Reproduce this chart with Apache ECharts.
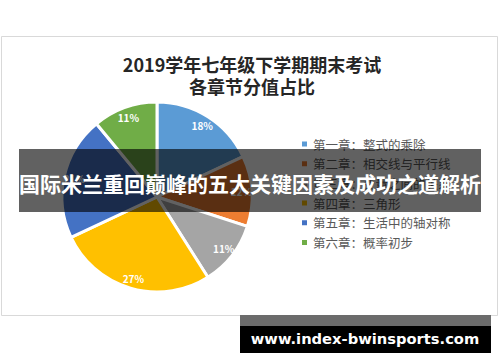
<!DOCTYPE html>
<html><head><meta charset="utf-8">
<script src="https://cdn.jsdelivr.net/npm/echarts@6/dist/echarts.min.js"></script>
<style>html,body{margin:0;padding:0;background:#fff;}#c{width:500px;height:362px;}</style>
</head><body><div id="c"></div>
<script>
const titleText = "2019学年七年级下学期期末考试\n各章节分值占比";
const categories = ["第一章：整式的乘除","第二章：相交线与平行线","第三章：变量之间的关系","第四章：三角形","第五章：生活中的轴对称","第六章：概率初步"];
const values = [18, 12, 11, 27, 21, 11];
const colors = ["#5B9BD5","#ED7D31","#A5A5A5","#FFC000","#4472C4","#70AD47"];
const bannerText = "国际米兰重回巅峰的五大关键因素及成功之道解析";
const siteText = "www.index-bwinsports.com";

const data = categories.map((n,i)=>({name:n, value:values[i]}));
const chart = echarts.init(document.getElementById('c'), null, {renderer:'svg'});
const font = '"Noto Sans CJK SC","Noto Sans",sans-serif';
chart.setOption({
  animation:false,
  color: colors,
  title:{text:titleText, left:252, textAlign:'center', top:53, padding:0,
    textStyle:{fontFamily:font, fontSize:18, fontWeight:'bold', color:'#262626', lineHeight:22}},
  legend:{orient:'vertical', left:300, top:137, padding:0, icon:'rect', itemWidth:7, itemHeight:7, itemGap:5.7,
    data:categories, selectedMode:false,
    textStyle:{fontFamily:font, fontSize:12.5, color:'#595959', lineHeight:14}},
  graphic:[
    {type:'rect', z:-1, shape:{x:1.5,y:36.5,width:496,height:279}, style:{fill:'#fff', stroke:'#d9d9d9', lineWidth:1}},
    {type:'rect', z:100, shape:{x:19,y:149,width:462,height:63}, style:{fill:'rgba(0,0,0,0.62)'}},
    {type:'text', z:101, x:250, y:183, style:{text:bannerText, fill:'#fff', font:'bold 21px "Noto Sans CJK SC",sans-serif', textAlign:'center', textVerticalAlign:'middle'}},
    {type:'rect', z:100, shape:{x:240,y:315,width:251,height:11}, style:{fill:'#6b6b6b'}},
    {type:'rect', z:100, shape:{x:240,y:326,width:251,height:27}, style:{fill:'#000'}},
    {type:'text', z:101, x:365, y:338, style:{text:siteText, fill:'#fff', font:'bold 14.7px "DejaVu Sans",sans-serif', textAlign:'center', textVerticalAlign:'middle'}}
  ],
  series:[
    {type:'pie', center:[157,197], radius:[0,95], startAngle:90, clockwise:true, data:data,
      itemStyle:{borderColor:'#fff', borderWidth:3}, label:{show:false}, labelLine:{show:false}, silent:true},
    {type:'pie', center:[157,197], radius:[68,95], startAngle:90, clockwise:true, data:data, silent:true,
      itemStyle:{color:'transparent', borderWidth:0},
      label:{show:true, position:'inside', formatter:'{d}%', color:'#fff', fontSize:10, fontWeight:'bold', fontFamily:font},
      labelLine:{show:false}}
  ]
});
</script></body></html>
